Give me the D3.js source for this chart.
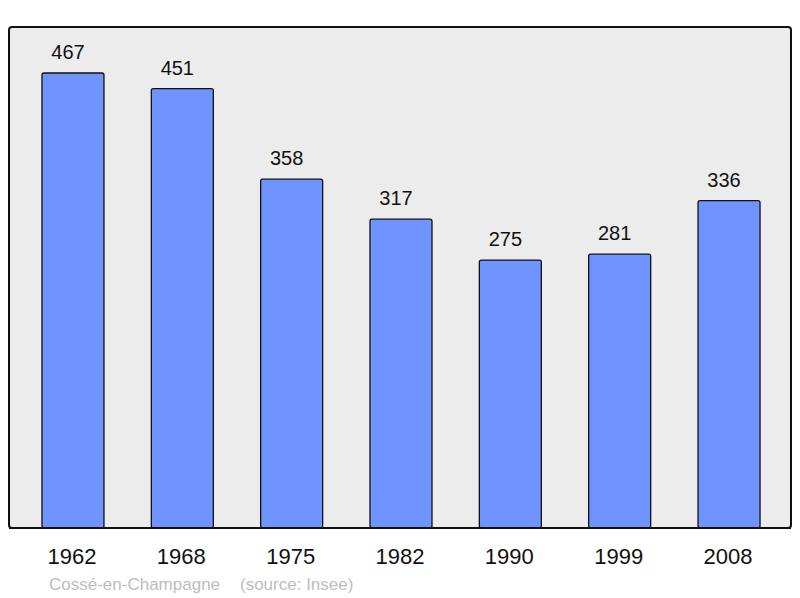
<!DOCTYPE html>
<html><head><meta charset="utf-8">
<script src="https://cdn.jsdelivr.net/npm/d3@7"></script>
<style>body{margin:0;background:#fff}svg{display:block;font-family:"Liberation Sans",Arial,sans-serif}</style>
</head><body><svg id="c" width="800" height="598"></svg>
<script>
const years = ["1962","1968","1975","1982","1990","1999","2008"];
const population = [467,451,358,317,275,281,336];
const placeName = "Cossé-en-Champagne";
const sourceText = "(source: Insee)";

const svg = d3.select("#c");
const frame = {x0:9, y0:27, x1:791, y1:528};
svg.append("rect").attr("x",frame.x0).attr("y",frame.y0)
  .attr("width",frame.x1-frame.x0).attr("height",frame.y1-frame.y0)
  .attr("rx",3).attr("fill","#ececec").attr("stroke","#111").attr("stroke-width",2);

const x = d3.scaleBand().domain(years).range([18.3,783.7]).paddingInner(0.433).paddingOuter(0.2165);
const y = d3.scaleLinear().domain([0,514.2]).range([528,27]);

const g = svg.append("g");
g.selectAll("rect.bar").data(years).join("rect").attr("class","bar")
  .attr("x",d=>x(d)).attr("width",x.bandwidth())
  .attr("y",(d,i)=>y(population[i])).attr("height",(d,i)=>y(0)-y(population[i]))
  .attr("rx",2).attr("fill","#7094ff").attr("stroke","#111").attr("stroke-width",1.3);

g.selectAll("text.val").data(years).join("text").attr("class","val")
  .attr("x",d=>x(d)+x.bandwidth()/2-5).attr("y",(d,i)=>y(population[i])-14)
  .attr("text-anchor","middle").attr("font-size",20).attr("fill","#111")
  .text((d,i)=>population[i]);

svg.append("line").attr("x1",frame.x0).attr("x2",frame.x1).attr("y1",frame.y1).attr("y2",frame.y1)
  .attr("stroke","#111").attr("stroke-width",2);

const xAxis = d3.axisBottom(x).tickSize(0).tickPadding(0);
const ax = svg.append("g").attr("transform","translate(-1,564)").call(xAxis);
ax.select(".domain").remove();
ax.selectAll("text").attr("font-size",22).attr("fill","#111").attr("dy",0).attr("y",0)
  .style("font-family","'Liberation Sans',Arial,sans-serif");

svg.append("text").attr("x",49).attr("y",590).attr("font-size",17).attr("fill","#bdbdbd").text(placeName);
svg.append("text").attr("x",240).attr("y",590).attr("font-size",17).attr("fill","#bdbdbd").text(sourceText);
</script></body></html>
